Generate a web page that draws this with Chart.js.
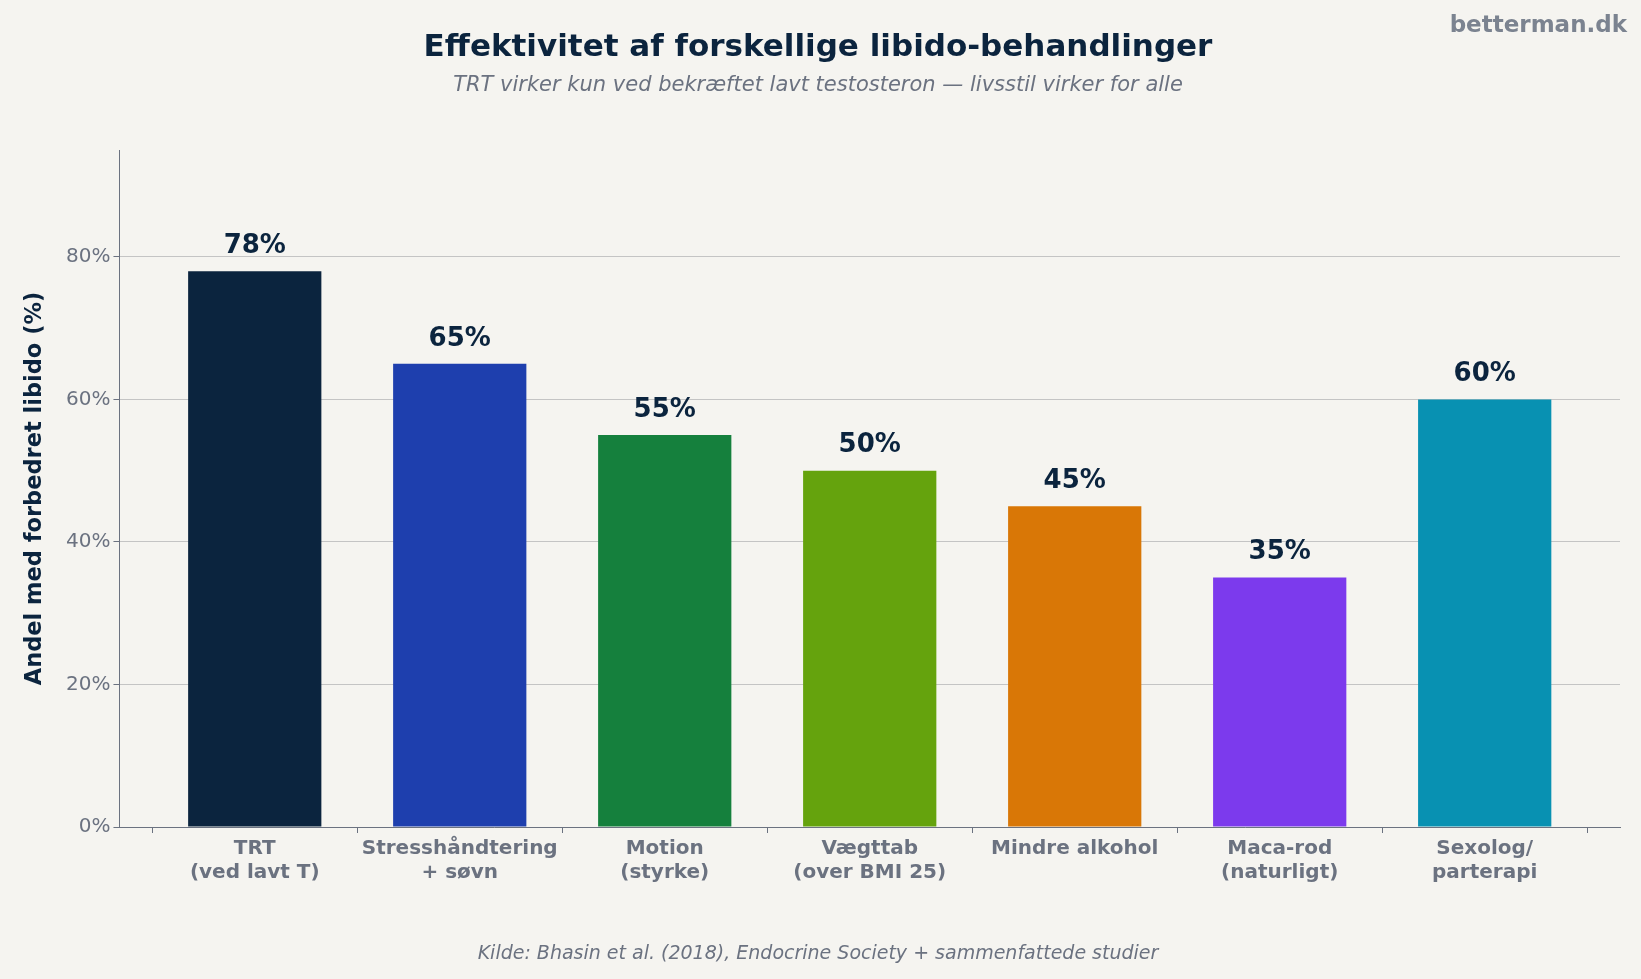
<!DOCTYPE html>
<html><head><meta charset="utf-8">
<script src="https://cdn.jsdelivr.net/npm/chart.js@4"></script>
<style>html,body{margin:0;padding:0;background:#f5f4f0;}#w{width:1641px;height:979px;}</style>
</head><body><div id="w"><canvas id="c"></canvas></div>
<script>
const categories = [["TRT","(ved lavt T)"],["Stresshåndtering","+ søvn"],["Motion","(styrke)"],["Vægttab","(over BMI 25)"],["Mindre alkohol"],["Maca-rod","(naturligt)"],["Sexolog/","parterapi"]];
const values = [78,65,55,50,45,35,60];
const colors = ["#0b243e","#1e3fae","#15803d","#65a30d","#d97706","#7c3aed","#0891b2"];
const yTicks = [0,20,40,60,80];
const F = "'DejaVu Sans', sans-serif";
const deco = {
  id:'deco',
  afterDatasetsDraw(ch){
    const c=ch.ctx, m=ch.getDatasetMeta(0);
    c.save();
    c.fillStyle='#0b243e'; c.font='bold 26px '+F; c.textAlign='center'; c.textBaseline='bottom';
    m.data.forEach((b,i)=>c.fillText(values[i]+'%', b.x, b.y-12));
    c.font='bold 31px '+F; c.textBaseline='middle';
    c.fillText('Effektivitet af forskellige libido-behandlinger', 818, 48);
    c.fillStyle='#6b7280'; c.font='italic 21px '+F;
    c.fillText('TRT virker kun ved bekræftet lavt testosteron — livsstil virker for alle', 818, 86);
    c.font='italic 19px '+F;
    c.fillText('Kilde: Bhasin et al. (2018), Endocrine Society + sammenfattede studier', 818, 954);
    c.fillStyle='#7b8390'; c.font='bold 23px '+F; c.textAlign='right';
    c.fillText('betterman.dk', 1627, 26);
    c.restore();
  }
};
new Chart(document.getElementById('c'),{
  type:'bar',
  data:{datasets:[{data:values.map((v,i)=>({x:i,y:v})),backgroundColor:colors,barPercentage:0.65,categoryPercentage:1}]},
  options:{
    responsive:true,maintainAspectRatio:false,animation:false,devicePixelRatio:1,
    layout:{padding:{top:150,right:21,bottom:90,left:18}},
    plugins:{legend:{display:false},tooltip:{enabled:false}},
    scales:{
      x:{type:'linear',min:-0.66,max:6.66,offset:false,
        afterBuildTicks(a){a.ticks=categories.map((_,i)=>({value:i}));},
        grid:{display:true,drawOnChartArea:false,tickColor:'#6b7280',tickLength:6},border:{color:'#6b7280'},
        ticks:{color:'#6b7280',font:{family:F,size:20,weight:'bold'},padding:4,autoSkip:false,maxRotation:0,callback:(v)=>categories[v]}},
      y:{min:0,max:95,afterBuildTicks(a){a.ticks=yTicks.map(v=>({value:v}));},
        border:{color:'#6b7280'},
        grid:{color:'#c4c4c4',tickColor:'#6b7280',tickLength:6},
        ticks:{color:'#6b7280',font:{family:F,size:20},callback:v=>v+'%'},
        title:{display:true,text:'Andel med forbedret libido (%)',color:'#0b243e',font:{family:F,size:22.5,weight:'bold'},padding:{bottom:14}}}
    }
  },
  plugins:[deco,{id:'bg',beforeDraw(ch){const c=ch.ctx;c.save();c.fillStyle='#f5f4f0';c.fillRect(0,0,ch.width,ch.height);c.restore();}},
    {id:'dash',beforeDraw(ch){ch.options.scales.y.grid.borderDash=[4,3];}}]
});
</script></body></html>
